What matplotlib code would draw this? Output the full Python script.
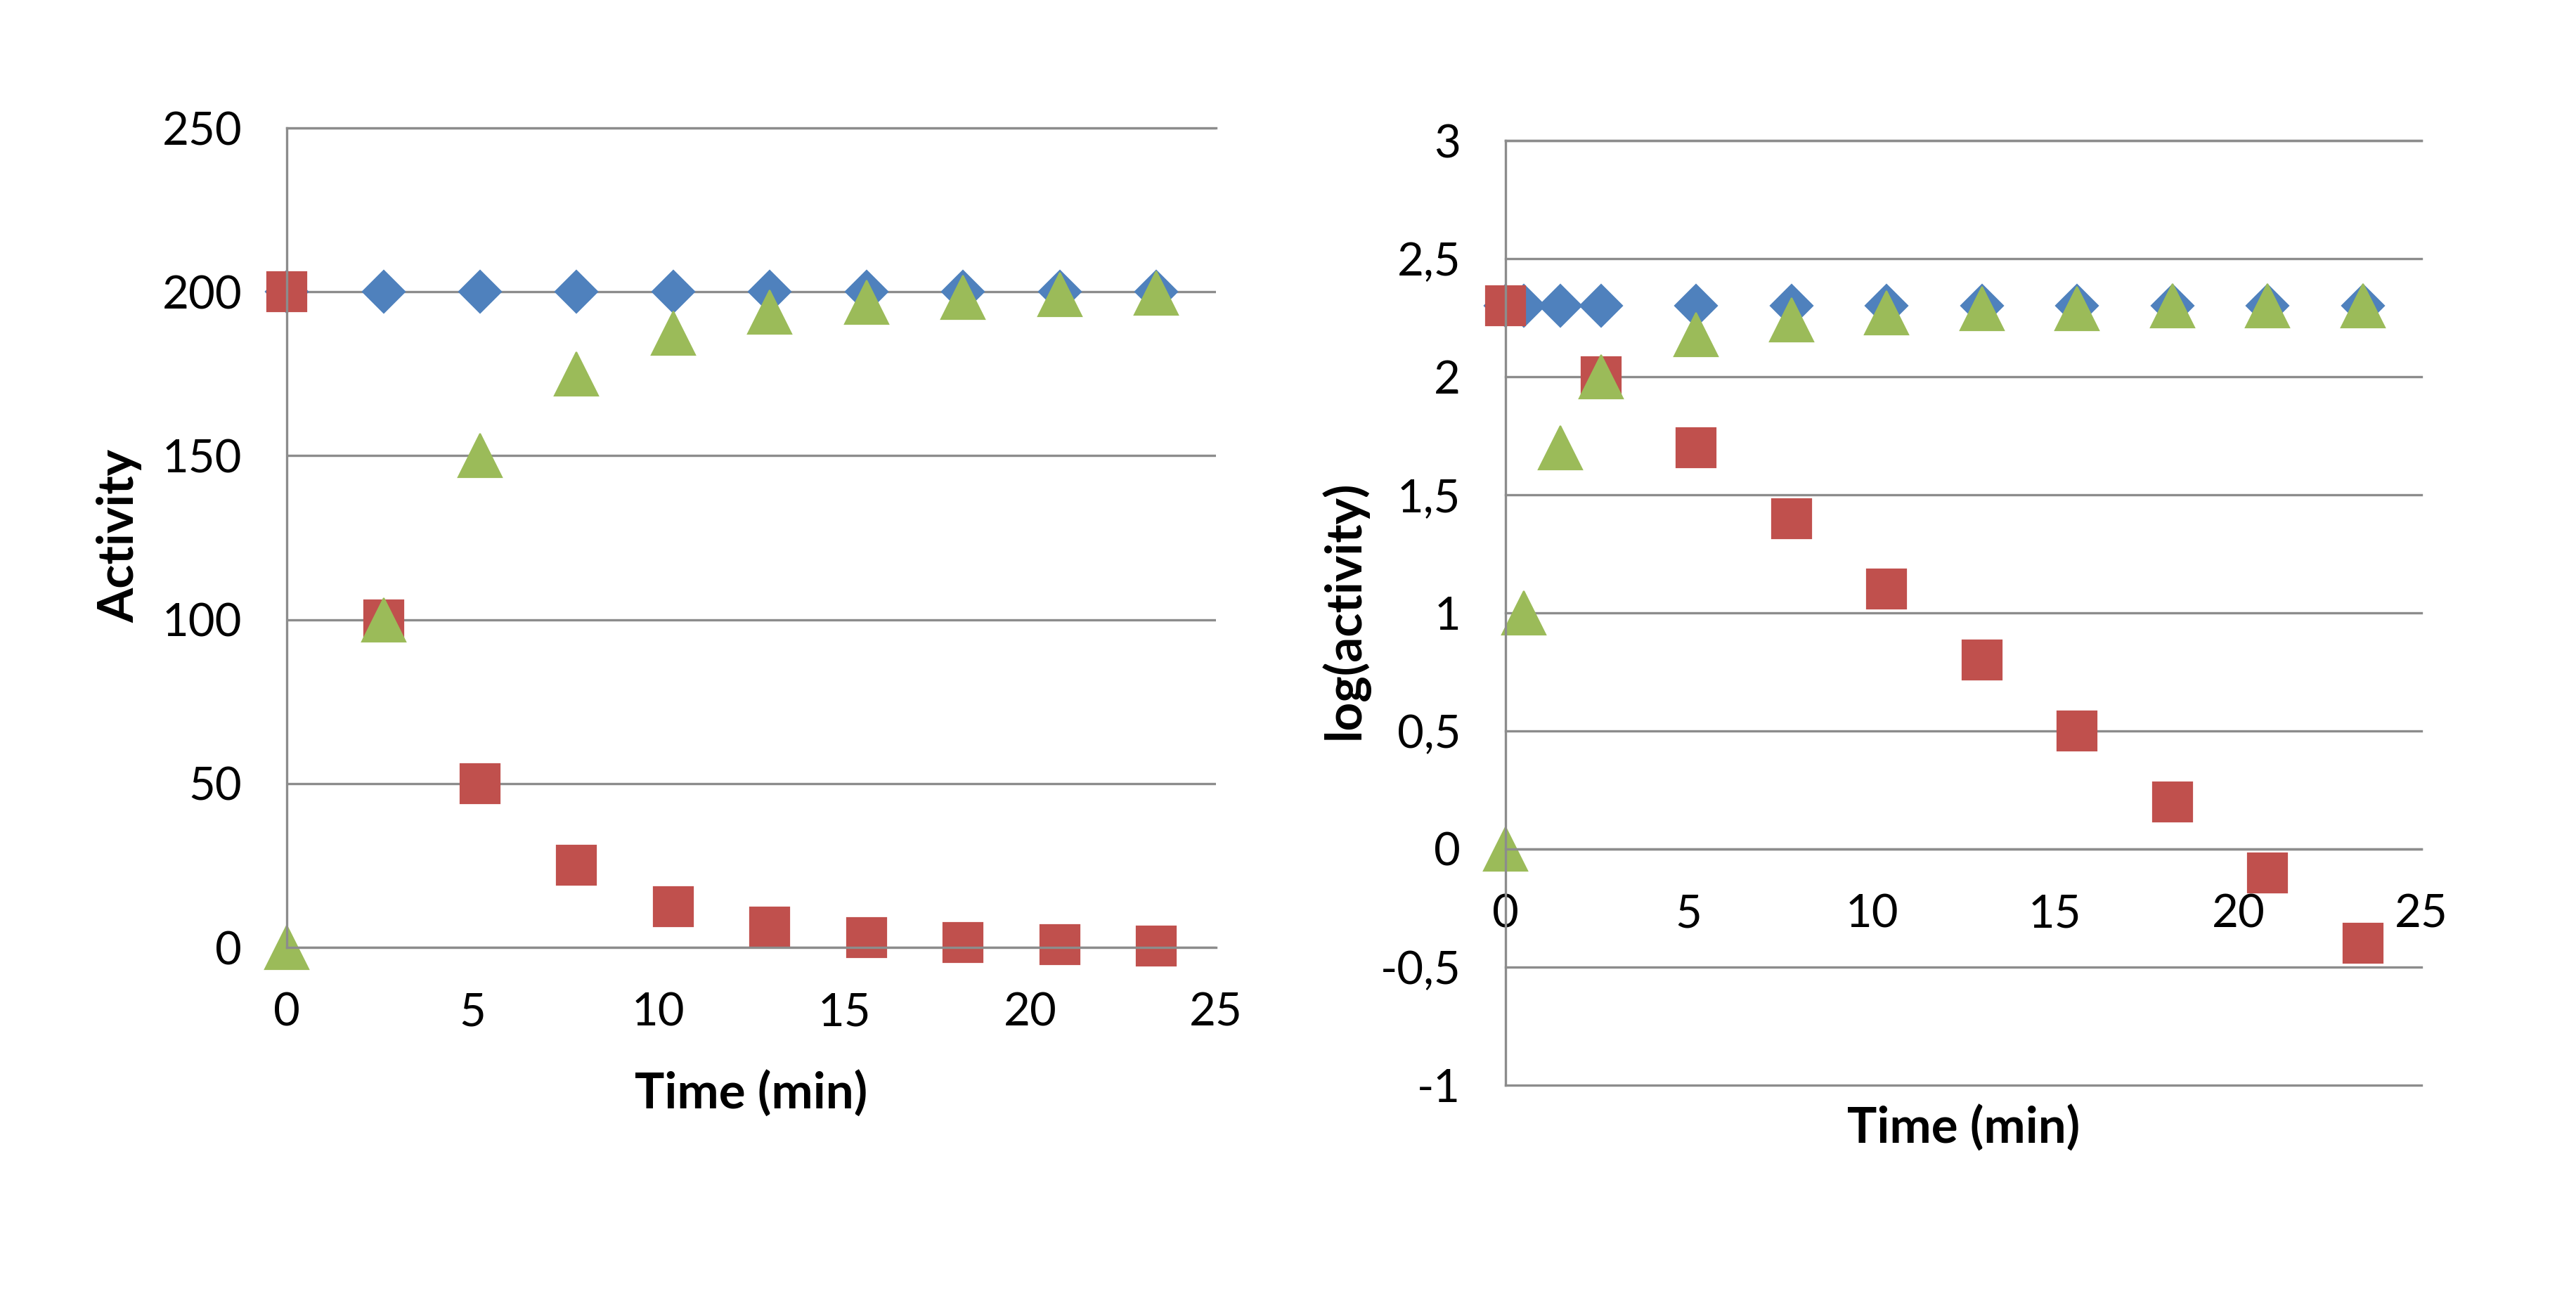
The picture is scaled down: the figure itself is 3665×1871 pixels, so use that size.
import matplotlib
matplotlib.use('Agg')
import matplotlib.pyplot as plt

plt.rcParams['font.family'] = ['Lato', 'DejaVu Sans']

# left chart: activity against time
t_left = [0, 2.6, 5.2, 7.8, 10.4, 13, 15.6, 18.2, 20.8, 23.4]
blue_left = [200, 200, 200, 200, 200, 200, 200, 200, 200, 200]
red_left = [200, 100, 50, 25, 12.5, 6.25, 3.1, 1.6, 0.8, 0.4]
green_left = [0, 100, 150, 175, 187.5, 193.8, 196.9, 198.4, 199.2, 199.6]

# right chart: log(activity) against time
t_blue_right = [0, 0.5, 1.5, 2.6, 5.2, 7.8, 10.4, 13, 15.6, 18.2, 20.8, 23.4]
blue_right = [2.3, 2.3, 2.3, 2.3, 2.3, 2.3, 2.3, 2.3, 2.3, 2.3, 2.3, 2.3]
t_red_right = [0, 2.6, 5.2, 7.8, 10.4, 13, 15.6, 18.2, 20.8, 23.4]
red_right = [2.3, 2.0, 1.7, 1.4, 1.1, 0.8, 0.5, 0.2, -0.1, -0.4]
t_green_right = [0, 0.5, 1.5, 2.6, 5.2, 7.8, 10.4, 13, 15.6, 18.2, 20.8, 23.4]
green_right = [0, 1.0, 1.7, 2.0, 2.18, 2.24, 2.27, 2.29, 2.29, 2.3, 2.3, 2.3]

x_ticks = [0, 5, 10, 15, 20, 25]
left_yticks = [0, 50, 100, 150, 200, 250]
right_yticks = [-1, -0.5, 0, 0.5, 1, 1.5, 2, 2.5, 3]
right_ylabels = ['-1', '-0,5', '0', '0,5', '1', '1,5', '2', '2,5', '3']

BLUE = '#4F81BD'
RED = '#C0504D'
GREEN = '#9BBB59'
GRID = '#8c8c8c'
FS = 23.5      # tick labels
LFS = 25.5     # axis titles


def draw_series(ax, x, y, color, marker, size):
    ax.plot(x, y, linestyle='none', marker=marker, markersize=size,
            color=color, markeredgecolor=color, markeredgewidth=0.8,
            clip_on=False)


def style_axes(ax):
    ax.set_axisbelow(True)
    ax.grid(axis='y', color=GRID, linewidth=1.2)
    ax.grid(axis='x', visible=False)
    ax.spines['right'].set_visible(False)
    for side in ['left', 'top', 'bottom']:
        ax.spines[side].set_color(GRID)
        ax.spines[side].set_linewidth(1.2)
    ax.tick_params(length=0, labelsize=FS, colors='black')
    ax.tick_params(axis='y', pad=23)
    ax.tick_params(axis='x', pad=23)


fig = plt.figure(figsize=(18.33, 9.355), dpi=200)

# left panel
ax1 = fig.add_axes([0.1113, 0.2795, 0.3606, 0.6232])
draw_series(ax1, t_left, blue_left, BLUE, 'D', 15.3)
draw_series(ax1, t_left, red_left, RED, 's', 20.5)
draw_series(ax1, t_left, green_left, GREEN, '^', 22)
ax1.set_xlim(0, 25)
ax1.set_ylim(0, 250)
ax1.set_xticks(x_ticks)
ax1.set_yticks(left_yticks)
style_axes(ax1)
ax1.text(0.5, -0.178, 'Time (min)', transform=ax1.transAxes, ha='center',
         va='center', fontsize=LFS, fontweight='bold')
ax1.text(-0.180, 0.502, 'Activity', transform=ax1.transAxes, ha='center',
         va='center', rotation=90, fontsize=LFS, fontweight='bold')

# right panel
ax2 = fig.add_axes([0.5843, 0.1748, 0.3554, 0.7183])
draw_series(ax2, t_blue_right, blue_right, BLUE, 'D', 15.3)
draw_series(ax2, t_red_right, red_right, RED, 's', 20.5)
draw_series(ax2, t_green_right, green_right, GREEN, '^', 22)
ax2.set_xlim(0, 25)
ax2.set_ylim(-1, 3)
ax2.set_xticks(x_ticks)
ax2.set_yticks(right_yticks)
ax2.set_yticklabels(right_ylabels)
style_axes(ax2)
ax2.spines['bottom'].set_position(('data', 0))
for gl in ax2.get_ygridlines():
    gl.set_clip_on(False)
ax2.text(0.5, -0.045, 'Time (min)', transform=ax2.transAxes, ha='center',
         va='center', fontsize=LFS, fontweight='bold')
ax2.text(-0.176, 0.503, 'log(activity)', transform=ax2.transAxes, ha='center',
         va='center', rotation=90, fontsize=LFS, fontweight='bold')

fig.savefig('out.png', dpi=200, facecolor='white')
